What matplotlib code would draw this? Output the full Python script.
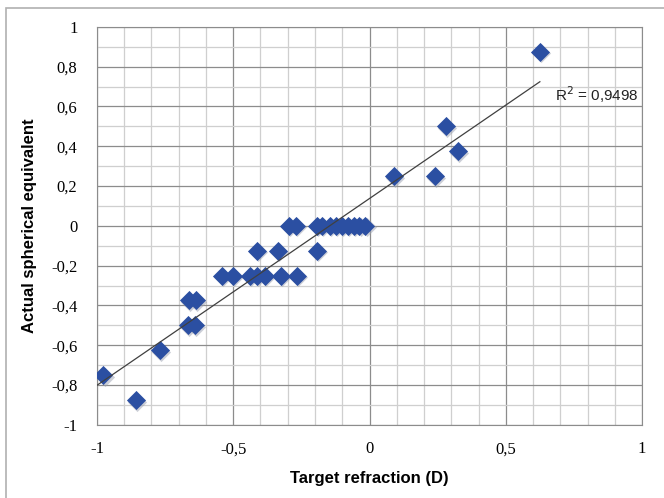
import numpy as np
import matplotlib
matplotlib.use("Agg")
import matplotlib.pyplot as plt
from matplotlib.patches import Rectangle
from matplotlib.ticker import MultipleLocator, FuncFormatter

# target refraction (D) vs actual spherical equivalent
target = [0.625, 0.28, 0.325, 0.088, 0.24,
          -0.296, -0.27, -0.194, -0.175, -0.146, -0.124, -0.102, -0.08, -0.058, -0.037, -0.015,
          -0.413, -0.336, -0.194,
          -0.541, -0.5, -0.44, -0.413, -0.384, -0.325, -0.267,
          -0.662, -0.636,
          -0.665, -0.64,
          -0.77, -0.976, -0.856]
actual = [0.875, 0.5, 0.375, 0.25, 0.25,
          0, 0, 0, 0, 0, 0, 0, 0, 0, 0, 0,
          -0.125, -0.125, -0.125,
          -0.25, -0.25, -0.25, -0.25, -0.25, -0.25, -0.25,
          -0.375, -0.375,
          -0.5, -0.5,
          -0.625, -0.75, -0.875]
r2_text = "R$^2$ = 0,9498"

x = np.array(target)
y = np.array(actual)

fig = plt.figure(figsize=(6.64, 4.98), dpi=100)
ax = fig.add_axes([0.146, 0.147, 0.821, 0.799])

# outer chart frame
fig.patches.append(Rectangle((6 / 664, -0.1), 1.2, 1 - 8 / 498 + 0.1, transform=fig.transFigure,
                             fill=False, edgecolor="#b0b0b0", linewidth=1.2))

ax.set_xlim(-1, 1)
ax.set_ylim(-1, 1)
ax.xaxis.set_major_locator(MultipleLocator(0.5))
ax.xaxis.set_minor_locator(MultipleLocator(0.1))
ax.yaxis.set_major_locator(MultipleLocator(0.2))
ax.yaxis.set_minor_locator(MultipleLocator(0.1))
ax.grid(True, which="minor", color="#cfcfcf", linewidth=0.9)
ax.grid(True, which="major", color="#8c8c8c", linewidth=0.9)
ax.set_axisbelow(True)
for s in ax.spines.values():
    s.set_color("#8c8c8c")

fmt = FuncFormatter(lambda v, p: ("%g" % round(v, 2)).replace(".", ","))
ax.xaxis.set_major_formatter(fmt)
ax.yaxis.set_major_formatter(fmt)
ax.tick_params(which="both", length=0)
ax.tick_params(axis="x", pad=12)
ax.tick_params(axis="y", pad=14)
for lab in ax.get_xticklabels() + ax.get_yticklabels():
    lab.set_fontfamily("Liberation Serif")
    lab.set_fontsize(12)

# shadow + markers
ax.scatter(x + 0.004, y - 0.008, marker="D", s=95, color="#9aa0b0", alpha=0.5, linewidths=0, zorder=2)
ax.scatter(x, y, marker="D", s=95, color="#2b4fa2", linewidths=0, zorder=3)

# linear trend line
k, b = np.polyfit(x, y, 1)
xs = np.array([-1, x.max()])
ax.plot(xs, k * xs + b, color="#404040", linewidth=0.9, zorder=4)
ax.text(0.68, 0.66, r2_text, fontsize=11, family="Liberation Sans", color="#222222", va="center")

ax.set_xlabel("Target refraction (D)", fontsize=12, fontweight="bold", family="Liberation Sans",
              labelpad=10)
ax.set_ylabel("Actual spherical equivalent", fontsize=12, fontweight="bold", family="Liberation Sans",
              labelpad=10)

fig.savefig("out.png", dpi=100)
